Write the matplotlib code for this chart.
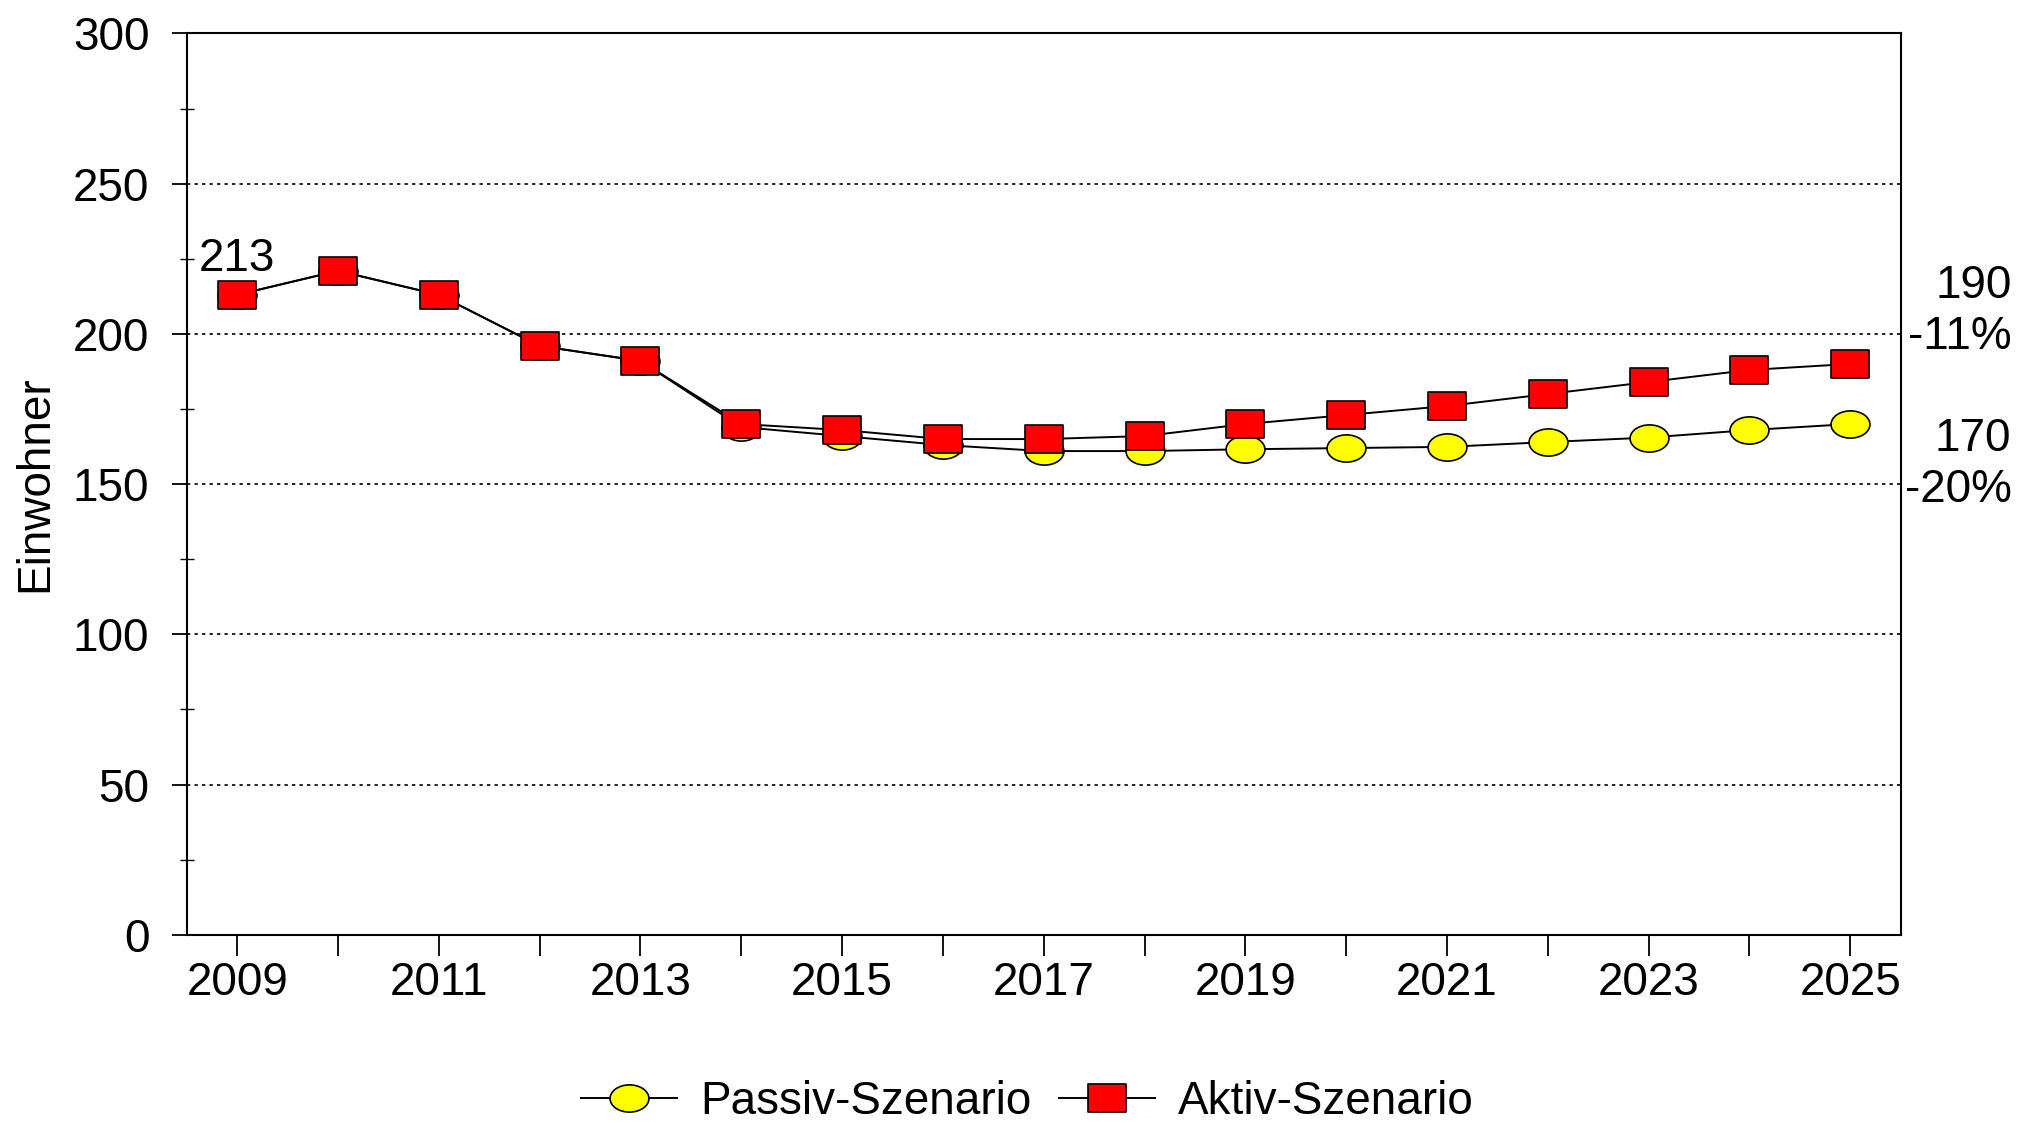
import numpy as np
import matplotlib
matplotlib.use("Agg")
import matplotlib.pyplot as plt
from matplotlib.path import Path
from matplotlib.transforms import Affine2D, blended_transform_factory
from matplotlib.ticker import MultipleLocator

plt.rcParams["font.family"] = ["Liberation Sans", "DejaVu Sans"]

years = np.arange(2009, 2026)
passiv = [213, 221, 213, 196, 191, 169, 166, 163, 161, 161, 161.6, 162, 162.4, 164, 165.5, 168, 170]
aktiv = [213, 221, 213, 196, 191, 170, 168, 165, 165, 166, 170, 173, 176, 180, 184, 188, 190]
label_passiv = "Passiv-Szenario"
label_aktiv = "Aktiv-Szenario"
y_label = "Einwohner"

# wide markers (original chart is stretched horizontally)
_stretch = Affine2D().scale(1.5, 1.05)
ellipse_marker = _stretch.transform_path(Path.unit_circle())
rect_marker = Affine2D().translate(-0.5, -0.5).scale(1.45, 1.05).transform_path(
    Path.unit_rectangle())

FS = 33

fig = plt.figure(figsize=(20.19, 11.23), dpi=100, facecolor="white")
ax = fig.add_axes([0.0925, 0.1676, 0.8489, 0.8026])

line_kw = dict(color="black", linewidth=1.4, markeredgecolor="black",
               markeredgewidth=1.2, markersize=28)
ax.plot(years, passiv, marker=ellipse_marker, markerfacecolor="#ffff00",
        label=label_passiv, zorder=3, **line_kw)
ax.plot(years, aktiv, marker=rect_marker, markerfacecolor="#ff0000",
        label=label_aktiv, zorder=4, **line_kw)

ax.set_xlim(2008.5, 2025.5)
ax.set_ylim(0, 300)

ax.yaxis.set_major_locator(MultipleLocator(50))
ax.yaxis.set_minor_locator(MultipleLocator(25))
ax.set_xticks(years)
ax.set_xticklabels([str(y) if (y - 2009) % 2 == 0 else "" for y in years])

ax.tick_params(axis="y", which="major", direction="out", length=11, width=1.3,
               labelsize=FS, pad=16, colors="black")
ax.tick_params(axis="y", which="minor", direction="inout", length=10, width=1.0)
ax.tick_params(axis="x", which="major", direction="out", length=15, width=1.3,
               labelsize=FS, pad=4)

for s in ax.spines.values():
    s.set_linewidth(1.5)
    s.set_color("black")

for v in range(50, 300, 50):
    ax.axhline(v, color="black", linewidth=1.2, linestyle=(0, (2, 2.5)), zorder=1)

ax.set_ylabel(y_label, fontsize=FS, labelpad=11)

# start / end annotations
ax.text(years[0], aktiv[0] + 12, str(aktiv[0]), fontsize=FS, ha="center", va="center")

trans = blended_transform_factory(ax.transAxes, ax.transData)
pct_a = round((aktiv[-1] / aktiv[0] - 1) * 100)
pct_p = round((passiv[-1] / passiv[0] - 1) * 100)
ax.text(1.0646, aktiv[-1] + 26, str(aktiv[-1]), transform=trans, fontsize=FS,
        ha="right", va="center")
ax.text(1.0646, aktiv[-1] + 9, f"{pct_a}%", transform=trans, fontsize=FS,
        ha="right", va="center")
ax.text(1.0646, passiv[-1] - 5, str(round(passiv[-1])), transform=trans, fontsize=FS,
        ha="right", va="center")
ax.text(1.0646, passiv[-1] - 22, f"{pct_p}%", transform=trans, fontsize=FS,
        ha="right", va="center")

fig.legend(loc="center", bbox_to_anchor=(0.5087, 0.0187), ncol=2, frameon=False,
           fontsize=FS, numpoints=1, handlelength=2.1, handletextpad=0.5,
           columnspacing=0.6, borderpad=0)

fig.savefig("out.png", dpi=100, facecolor="white")
